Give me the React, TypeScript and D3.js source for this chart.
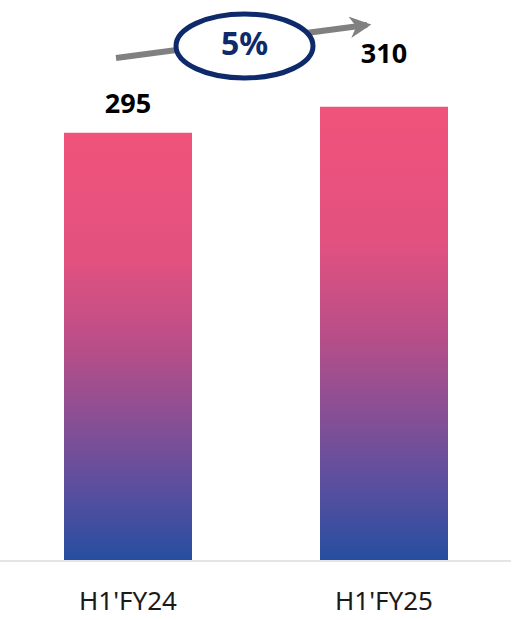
import React from "react";
import * as d3 from "d3";

const categories = ["H1'FY24", "H1'FY25"];
const values = [295, 310];
const growthLabel = "5%";

const W = 514;
const H = 620;
const baseline = 560;
const labelOffsets = [20, 44];

export default function App() {
  const x = d3.scaleBand<string>().domain(categories).range([0, 512]).paddingInner(0.5).paddingOuter(0.25);
  const y = d3.scaleLinear().domain([48.5, 371.6]).range([baseline, 0]);
  const bw = x.bandwidth();
  const font = "'Noto Sans', 'Open Sans', sans-serif";

  const gradStops = [
    [0, "#F0537A"],
    [0.3, "#E25180"],
    [0.5, "#B94E88"],
    [0.7, "#814F96"],
    [0.85, "#564EA0"],
    [1, "#274E9F"],
  ];

  return (
    <svg width={W} height={H} style={{ position: "absolute", left: 0, top: 0, background: "#fff" }}>
      <defs>
        <linearGradient id="barGrad" x1="0" y1="0" x2="0" y2="1">
          {gradStops.map(([o, c]) => (
            <stop key={String(o)} offset={o as number} stopColor={c as string} />
          ))}
        </linearGradient>
        <marker id="arrowHead" viewBox="0 0 10 10" refX="8" refY="5" markerWidth="3.6" markerHeight="3.6" orient="auto" markerUnits="strokeWidth">
          <path d="M0,0 L10,5 L0,10 L3,5 Z" fill="#808080" />
        </marker>
      </defs>
      <line x1={0} x2={511} y1={baseline + 1} y2={baseline + 1} stroke="#e4e4e4" strokeWidth={2} />
      {categories.map((c, i) => (
        <g key={c}>
          <rect x={x(c)} y={y(values[i])} width={bw} height={baseline - y(values[i])} fill="url(#barGrad)" />
          <text
            x={(x(c) as number) + bw / 2}
            y={y(values[i]) - labelOffsets[i]}
            textAnchor="middle"
            fontFamily={font}
            fontWeight="bold"
            fontSize={27}
            fill="#000"
          >
            {values[i]}
          </text>
          <text
            x={(x(c) as number) + bw / 2}
            y={610}
            textAnchor="middle"
            fontFamily={font}
            fontSize={26}
            fill="#1a1a1a"
          >
            {c}
          </text>
        </g>
      ))}
      <line x1={116} y1={58} x2={367} y2={25} stroke="#808080" strokeWidth={6} markerEnd="url(#arrowHead)" />
      <ellipse cx={244.5} cy={46} rx={68.5} ry={32} fill="#fff" stroke="#0E2A6B" strokeWidth={5} />
      <text x={244.5} y={55} textAnchor="middle" fontFamily={font} fontWeight="bold" fontSize={32} fill="#0E2A6B">
        {growthLabel}
      </text>
    </svg>
  );
}
